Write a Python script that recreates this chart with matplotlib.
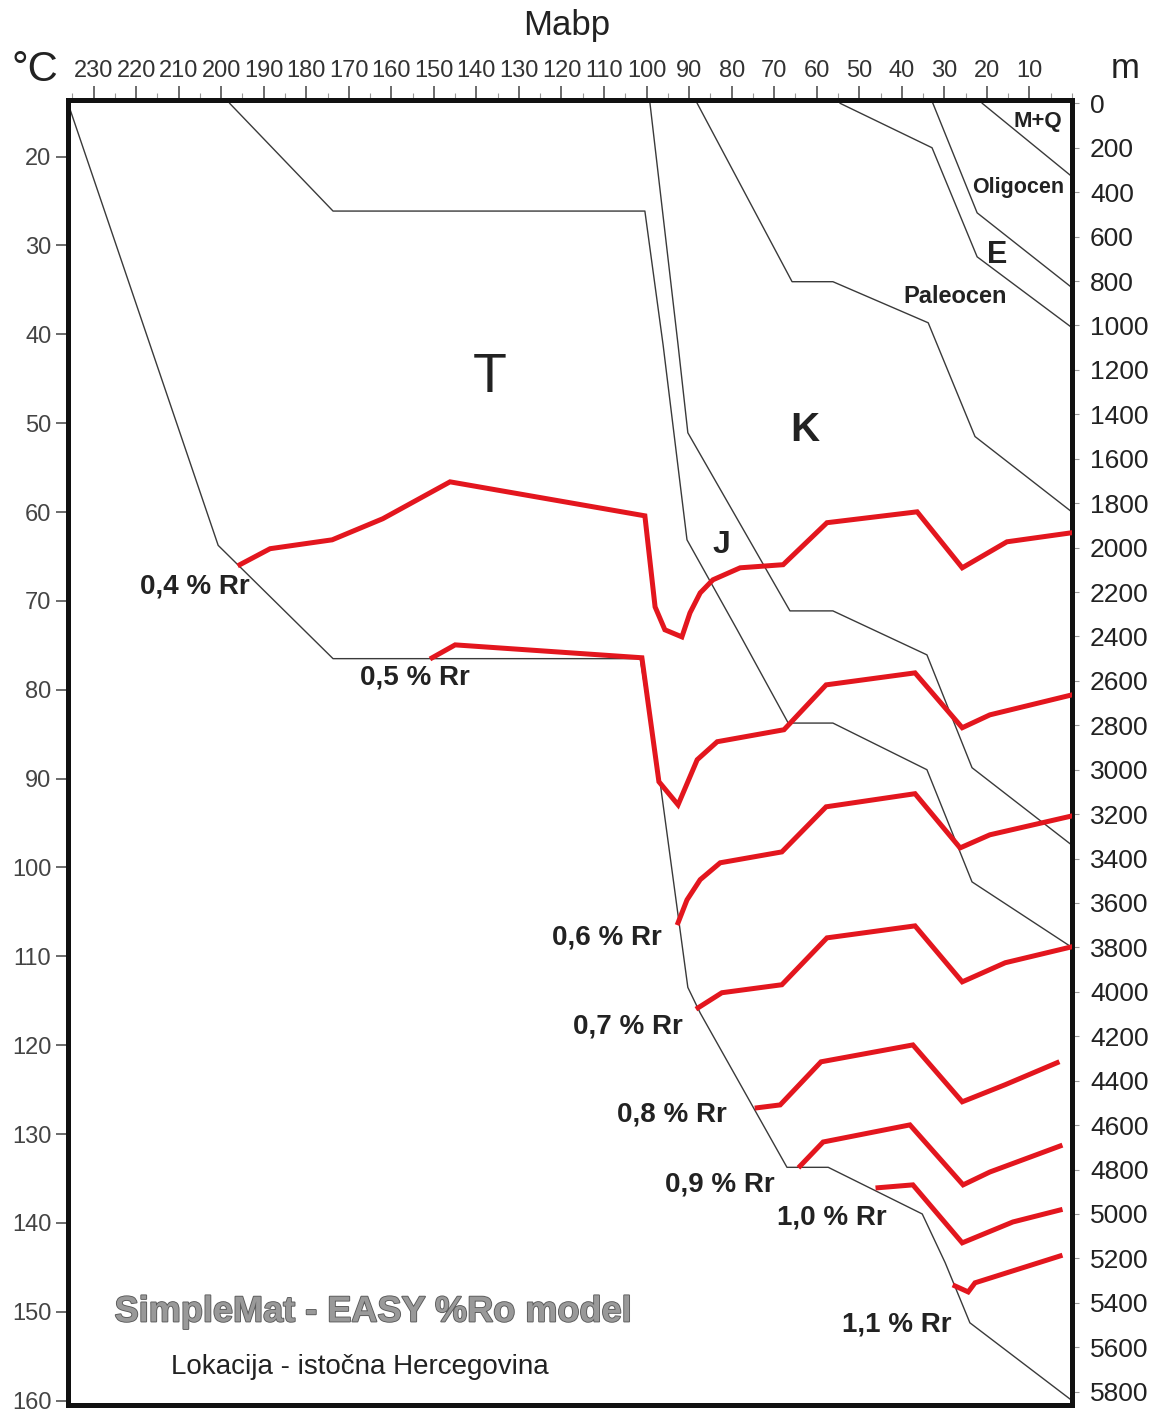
import matplotlib.pyplot as plt
import matplotlib.patheffects as pe
from matplotlib.ticker import FixedLocator, MultipleLocator

plt.rcParams['font.family'] = ['Liberation Sans', 'DejaVu Sans']

# burial history of horizons: age (Ma) and depth (m)
base_T_age = [236, 200.7, 173.7, 101.5, 96.8, 90.3, 87.4, 67.0, 57.3, 35.2, 29.8, 24.0, 0]
base_T_depth = [0, 1990, 2500, 2500, 3060, 3980, 4095, 4790, 4790, 5000, 5220, 5490, 5840]
base_J_age = [198, 173.7, 100.4, 96.1, 90.5, 78.7, 66.7, 56.2, 34.1, 23.5, 0]
base_J_depth = [0, 485, 485, 1090, 1965, 2370, 2790, 2790, 3000, 3505, 3800]
base_K_age = [99.2, 92.6, 90.3, 66.3, 56.2, 34.1, 23.5, 0]
base_K_depth = [0, 1087, 1483, 2285, 2285, 2483, 2991, 3340]
top_K1_age = [88.1, 65.8, 56.2, 33.8, 22.8, 0]
top_K1_depth = [0, 803, 803, 988, 1500, 1840]
base_Pc_age = [54.5, 32.9, 22.3, 0]
base_Pc_depth = [0, 200, 691, 1010]
base_E_age = [32.7, 22.3, 0]
base_E_depth = [0, 493, 830]
base_MQ_age = [21.1, 0]
base_MQ_depth = [0, 330]

# iso-reflectance lines (%Rr)
ro04_age = [195.6, 188.5, 173.9, 162.0, 146.2, 100.4, 98.0, 95.7, 91.7, 89.8, 87.4, 84.4, 78.0, 67.9, 57.6, 36.4, 25.8, 15.3, 0]
ro04_depth = [2077, 2005, 1965, 1870, 1704, 1857, 2267, 2370, 2402, 2294, 2204, 2145, 2091, 2077, 1888, 1839, 2091, 1974, 1933]
ro05_age = [150.4, 145.0, 101.1, 97.1, 92.6, 88.1, 83.4, 67.7, 57.8, 36.9, 25.8, 19.3, 0]
ro05_depth = [2496, 2438, 2496, 3054, 3158, 2955, 2874, 2820, 2618, 2564, 2811, 2753, 2663]
ro06_age = [92.6, 90.5, 87.4, 82.7, 68.2, 57.8, 36.9, 26.3, 19.3, 0]
ro06_depth = [3689, 3586, 3495, 3419, 3370, 3167, 3108, 3352, 3293, 3208]
ro07_age = [87.9, 82.3, 68.2, 57.6, 36.9, 25.8, 15.7, 0]
ro07_depth = [4072, 4004, 3968, 3757, 3703, 3955, 3869, 3797]
ro08_age = [74.0, 68.6, 59.0, 37.4, 25.8, 15.7, 3.5]
ro08_depth = [4522, 4509, 4315, 4239, 4495, 4418, 4319]
ro09_age = [63.9, 58.5, 38.1, 25.6, 19.3, 2.8]
ro09_depth = [4784, 4676, 4599, 4869, 4811, 4694]
ro10_age = [45.6, 37.4, 25.8, 13.9, 2.8]
ro10_depth = [4882, 4869, 5130, 5036, 4982]
ro11_age = [27.5, 24.4, 22.8, 2.8]
ro11_depth = [5324, 5351, 5310, 5189]

ro_names = ['0,4 % Rr', '0,5 % Rr', '0,6 % Rr', '0,7 % Rr', '0,8 % Rr', '0,9 % Rr', '1,0 % Rr', '1,1 % Rr']

# temperature = surface temp + gradient * depth
t_surf = 14.0
t_grad = 0.025

fig = plt.figure(figsize=(11.6, 14.12), dpi=100)
ax = fig.add_axes([68 / 1160, 1 - 1405 / 1412, 1004 / 1160, 1305 / 1412])

horizons = [(base_T_age, base_T_depth), (base_J_age, base_J_depth), (base_K_age, base_K_depth),
            (top_K1_age, top_K1_depth), (base_Pc_age, base_Pc_depth), (base_E_age, base_E_depth),
            (base_MQ_age, base_MQ_depth)]
for a, d in horizons:
    ax.plot(a, d, color='#3a3a3a', lw=1.0, zorder=2)

iso = [(ro04_age, ro04_depth), (ro05_age, ro05_depth), (ro06_age, ro06_depth), (ro07_age, ro07_depth),
       (ro08_age, ro08_depth), (ro09_age, ro09_depth), (ro10_age, ro10_depth), (ro11_age, ro11_depth)]
for a, d in iso:
    ax.plot(a, d, color='#e3161e', lw=3.6, solid_joinstyle='miter', zorder=3)

ax.set_xlim(236, 0)
ax.set_ylim(5860, -15)

# top axis: age
ax.xaxis.set_ticks_position('top')
ax.xaxis.set_major_locator(FixedLocator(list(range(230, 0, -10))))
ax.xaxis.set_minor_locator(MultipleLocator(5))
ax.tick_params(axis='x', which='major', length=10, width=1.1, color='#444', labelsize=17, pad=3, labelcolor='#333')
ax.tick_params(axis='x', which='minor', length=5, width=0.8, color='#999')

# right axis: depth
ax.yaxis.set_ticks_position('right')
ax.set_yticks(range(0, 5801, 200))
ax.tick_params(axis='y', length=5, width=0.8, color='#999', labelsize=19, pad=8, labelcolor='#222')

# left axis: temperature
sec = ax.secondary_yaxis('left', functions=(lambda z: t_surf + t_grad * z, lambda t: (t - t_surf) / t_grad))
sec.set_yticks(range(20, 161, 10))
sec.tick_params(length=9, width=1.1, color='#444', labelsize=17, pad=3, labelcolor='#444')
sec.spines['left'].set_visible(False)

for s in ax.spines.values():
    s.set_linewidth(3.6)
    s.set_color('#111')

# reflectance labels
ro_pos = [(206.1, 2177), (154.4, 2586), (109.3, 3757), (104.4, 4158),
          (94.0, 4554), (82.7, 4869), (56.4, 5018), (41.1, 5499)]
for name, (a, d) in zip(ro_names, ro_pos):
    ax.text(a, d, name, ha='center', va='center', fontsize=20, fontweight='bold', color='#222', zorder=4)

# stratigraphic labels
ax.text(136.8, 1235, 'T', ha='center', va='center', fontsize=40, color='#222')
ax.text(62.8, 1469, 'K', ha='center', va='center', fontsize=29, fontweight='bold', color='#222')
ax.text(82.3, 1987, 'J', ha='center', va='center', fontsize=23, fontweight='bold', color='#222')
ax.text(27.5, 871, 'Paleocen', ha='center', va='center', fontsize=17, fontweight='bold', color='#222')
ax.text(17.6, 681, 'E', ha='center', va='center', fontsize=22, fontweight='bold', color='#222')
ax.text(12.7, 380, 'Oligocen', ha='center', va='center', fontsize=15.5, fontweight='bold', color='#222')
ax.text(8.0, 83, 'M+Q', ha='center', va='center', fontsize=16, fontweight='bold', color='#222')

# axis titles and captions
fig.text(567 / 1160, 1 - 26 / 1412, 'Mabp', ha='center', va='center', fontsize=25, color='#222')
fig.text(35 / 1160, 1 - 70 / 1412, '°C', ha='center', va='center', fontsize=30, color='#222')
fig.text(1125 / 1160, 1 - 68 / 1412, 'm', ha='center', va='center', fontsize=25, color='#222')
fig.text(373 / 1160, 1 - 1312 / 1412, 'SimpleMat - EASY %Ro model', ha='center', va='center',
         fontsize=26, fontweight='bold', color='#999999',
         path_effects=[pe.withStroke(linewidth=1.3, foreground='#5a5a5a')])
fig.text(360 / 1160, 1 - 1367 / 1412, 'Lokacija - istočna Hercegovina', ha='center', va='center',
         fontsize=20, color='#222')

fig.savefig('out.png', dpi=100)
